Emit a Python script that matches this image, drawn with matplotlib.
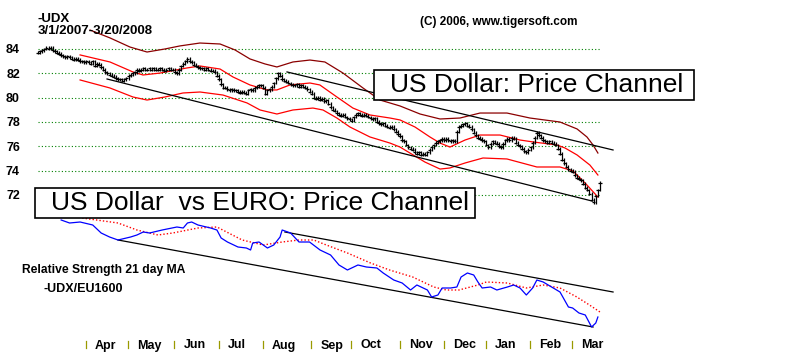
import numpy as np
import matplotlib
matplotlib.use("Agg")
import matplotlib.pyplot as plt
from matplotlib.patches import Rectangle
from matplotlib.transforms import blended_transform_factory

plt.rcParams['font.family'] = ['Liberation Sans', 'DejaVu Sans']

# -UDX daily closes, one list per month (3/1/2007 - 3/20/2008)
mar07 = [83.7, 83.8, 83.9, 84.0, 84.1, 84.0, 84.1, 83.9, 83.8, 83.7, 83.6, 83.5, 83.4, 83.3, 83.4, 83.3,
         83.2, 83.1, 83.2, 83.1, 83.0, 83.0]
apr07 = [82.9, 83.0, 82.9, 82.8, 83.0, 82.6, 82.8, 82.7, 82.5, 82.3, 82.1, 82.0, 81.9, 81.8, 81.7, 81.6,
         81.5, 81.5, 81.4, 81.5]
may07 = [81.6, 81.8, 81.9, 82.0, 82.1, 82.3, 82.2, 82.3, 82.4, 82.3, 82.3, 82.4, 82.3, 82.4, 82.3, 82.3,
         82.4, 82.3, 82.2, 82.3, 82.4, 82.3]
jun07 = [82.3, 82.1, 82.0, 82.3, 82.6, 82.8, 83.0, 83.2, 83.0, 82.9, 82.7, 82.6, 82.5, 82.4, 82.4, 82.3,
         82.4, 82.3, 82.2, 82.2, 82.1]
jul07 = [81.8, 81.5, 81.1, 80.8, 80.8, 80.7, 80.6, 80.7, 80.6, 80.6, 80.5, 80.4, 80.5, 80.4, 80.3, 80.6,
         80.7, 80.6, 80.8, 80.9, 81.0]
aug07 = [81.0, 80.8, 80.3, 80.6, 80.7, 80.9, 81.2, 81.6, 82.0, 81.8, 81.5, 81.4, 81.3, 81.2, 81.1, 81.0,
         81.0, 81.1, 80.9, 81.0, 80.9, 80.8, 80.7]
sep07 = [80.5, 80.3, 80.0, 79.9, 80.0, 79.8, 79.9, 79.7, 79.8, 79.5, 79.2, 79.0, 78.9, 78.7, 78.6, 78.5,
         78.6, 78.4, 78.3]
oct07 = [78.2, 78.1, 78.4, 78.6, 78.7, 78.6, 78.5, 78.6, 78.5, 78.4, 78.3, 78.2, 78.3, 78.0, 77.9, 77.8,
         77.9, 77.7, 77.6, 77.5, 77.6, 77.4, 77.2]
nov07 = [77.0, 76.8, 76.5, 76.4, 76.1, 75.9, 75.8, 75.7, 75.5, 75.4, 75.5, 75.3, 75.4, 75.3, 75.5, 75.7,
         75.9, 76.1, 76.3, 76.4, 76.5]
dec07 = [76.6, 76.5, 76.6, 76.5, 76.4, 76.5, 76.4, 77.2, 77.6, 77.7, 77.8, 77.9, 77.7, 77.6, 77.4, 77.1,
         76.9, 76.7, 76.6, 76.5]
jan08 = [76.4, 76.1, 75.9, 76.2, 76.4, 76.3, 76.2, 76.0, 75.9, 76.2, 76.5, 76.6, 76.5, 76.7, 76.6, 76.3,
         76.1, 76.0, 75.8, 75.6, 75.5]
feb08 = [75.7, 75.9, 76.3, 76.7, 77.1, 76.9, 76.7, 76.5, 76.4, 76.3, 76.4, 76.3, 76.2, 76.1, 75.8, 75.4,
         74.9, 74.6, 74.3, 74.1]
mar08 = [74.0, 73.9, 73.6, 73.4, 73.3, 73.2, 72.9, 72.6, 72.4, 72.1, 71.6, 71.4, 71.9, 72.4, 73.0]

# bands (trading day, value)
maroon_day = [24.7, 34.2, 43.7, 51.8, 60.3, 67.4, 76.9, 86.5, 93.6, 100.7, 107.8, 113.5, 121.1, 129.2,
              136.3, 144.9, 154.4, 162.5, 172.0, 181.5, 191.0, 200.5, 210.0, 222.8, 233.7, 248.0, 256.1,
              260.8, 263.7, 266.0]
maroon_val = [85.56, 84.91, 84.16, 83.75, 84.0, 84.25, 84.49, 84.41, 83.92, 83.18, 82.77, 82.52, 82.93,
              83.09, 82.93, 82.02, 80.79, 79.80, 79.31, 78.65, 78.24, 78.32, 78.73, 78.73, 78.32, 77.99,
              77.42, 76.76, 76.10, 75.44]
upper_day = [20.0, 34.2, 45.1, 49.9, 58.0, 70.8, 77.0, 86.5, 92.6, 100.7, 108.8, 113.5, 119.7, 129.2,
             133.9, 142.0, 149.6, 157.7, 167.2, 172.0, 179.1, 186.2, 191.0, 195.7, 202.9, 210.0, 219.5,
             229.0, 235.2, 246.6, 250.4, 256.1, 262.2, 266.0]
upper_val = [83.51, 82.93, 82.11, 81.86, 82.02, 82.44, 82.60, 82.35, 81.70, 81.04, 80.63, 80.63, 81.04,
             81.20, 81.04, 80.05, 79.14, 78.57, 78.32, 78.16, 77.58, 76.76, 76.26, 75.93, 76.51, 76.92,
             76.92, 76.51, 76.35, 76.10, 75.85, 75.28, 74.45, 73.63]
lower_day = [20.0, 34.2, 45.1, 51.8, 60.3, 68.9, 77.0, 87.9, 99.3, 105.5, 113.5, 121.1, 130.6, 135.4,
             142.0, 148.2, 157.7, 167.2, 172.0, 176.7, 183.8, 191.0, 195.7, 202.9, 211.4, 222.8, 237.0,
             248.0, 254.2, 260.8, 266.0]
lower_val = [81.45, 80.79, 80.05, 79.80, 80.05, 80.38, 80.46, 80.21, 79.56, 78.98, 78.65, 78.98, 79.14,
             78.98, 78.32, 77.58, 76.76, 76.26, 75.93, 75.44, 74.70, 74.12, 74.21, 74.62, 75.03, 74.95,
             74.29, 74.29, 73.96, 72.81, 71.82]

# price channel lines
chan_lo_day = [32.8, 263.2]
chan_lo_val = [81.53, 71.49]
chan_hi_day = [118.3, 273.2]
chan_hi_val = [82.11, 75.69]

# relative strength -UDX/EU1600 and its 21 day MA
rs_day = [11, 15, 20, 26, 30, 34, 38, 44, 47, 50, 53, 59, 66, 69, 71, 73, 76, 82, 85, 87, 90, 95, 99,
          101, 102, 105, 109, 112, 115, 116, 120, 124, 129, 134, 139, 143, 147, 152, 156, 161, 164, 169,
          173, 177, 180, 185, 187, 190, 192, 196, 199, 201, 204, 207, 209, 211, 215, 218, 223, 226, 229,
          232, 235, 237, 240, 244, 248, 252, 254, 257, 260, 263, 265, 266]
rs_val = [12.0, 11.7, 11.8, 11.5, 10.7, 10.3, 10.0, 10.3, 10.5, 10.8, 10.7, 11.0, 11.3, 11.2, 11.7, 11.8,
          11.5, 11.2, 11.0, 10.2, 9.8, 9.3, 9.2, 9.0, 9.7, 9.8, 9.2, 9.5, 10.3, 11.0, 10.7, 9.8, 9.8, 9.0,
          8.5, 7.5, 7.0, 7.5, 7.3, 7.2, 6.7, 6.0, 5.7, 5.0, 5.5, 5.0, 4.3, 4.5, 5.2, 5.2, 5.3, 6.3, 6.7,
          6.5, 5.8, 5.2, 5.3, 5.0, 5.3, 5.5, 5.2, 4.5, 5.2, 6.0, 5.8, 5.3, 4.8, 3.3, 3.2, 2.7, 2.5, 1.3,
          1.7, 2.3]
ma_day = [21, 38, 47, 57, 64, 76, 85, 97, 107, 116, 124, 131, 137, 147, 158, 167, 178, 188, 194, 200,
          209, 213, 223, 232, 240, 248, 256, 262, 267]
ma_val = [12.2, 11.7, 11.0, 10.5, 10.7, 11.2, 11.3, 10.0, 9.5, 9.8, 10.0, 10.0, 9.5, 8.7, 7.7, 7.0, 6.3,
          5.3, 5.0, 5.0, 5.5, 5.8, 5.7, 5.2, 5.5, 5.2, 4.3, 3.5, 2.8]
rs_lo_day = [38.0, 263.7]
rs_lo_val = [10.0, 1.3]
rs_hi_day = [117.3, 273.2]
rs_hi_val = [10.8, 4.8]

month_names = ['Apr', 'May', 'Jun', 'Jul', 'Aug', 'Sep', 'Oct', 'Nov', 'Dec', 'Jan', 'Feb', 'Mar']
month_start = [22, 42, 64, 85, 106, 129, 148, 171, 192, 212, 233, 253]
price_ticks = [72, 74, 76, 78, 80, 82, 84]

W, H = 800, 352
fig = plt.figure(figsize=(W / 100, H / 100), dpi=100)
fig.patch.set_facecolor('white')


def px_rect(x0, y0, x1, y1):
    return [x0 / W, (H - y1) / H, (x1 - x0) / W, (y1 - y0) / H]


closes = np.array(mar07 + apr07 + may07 + jun07 + jul07 + aug07 + sep07 + oct07 + nov07 + dec07
                  + jan08 + feb08 + mar08)
days = np.arange(len(closes))

# ---- price panel
ax = fig.add_axes(px_rect(38, 0, 600, 215))
ax.set_xlim(0, 267)
ax.set_ylim(70.34, 88.03)
for s in ax.spines.values():
    s.set_visible(False)
ax.set_xticks([])
ax.set_yticks(price_ticks)
ax.set_yticklabels([str(t) for t in price_ticks], fontsize=9, fontweight='bold')
ax.tick_params(axis='y', length=0, pad=13)
ax.yaxis.grid(True, color='#008000', linestyle=(0, (1, 2)), linewidth=0.8)
ax.set_axisbelow(True)

ax.plot(maroon_day, maroon_val, color='#8b0000', lw=0.9, clip_on=False)
ax.plot(upper_day, upper_val, color='#ff0000', lw=0.9, clip_on=False)
ax.plot(lower_day, lower_val, color='#ff0000', lw=0.9, clip_on=False)
ax.plot(chan_lo_day, chan_lo_val, color='black', lw=0.9, clip_on=False)
ax.plot(chan_hi_day, chan_hi_val, color='black', lw=0.9, clip_on=False)

prev = np.r_[closes[0], closes[:-1]]
ax.vlines(days, np.minimum(prev, closes) - 0.12, np.maximum(prev, closes) + 0.12,
          color='black', lw=0.9, clip_on=False)
ax.hlines(closes, days - 0.8, days + 0.8, color='black', lw=0.9, clip_on=False)

# ---- relative strength panel
ax2 = fig.add_axes(px_rect(38, 215, 600, 335))
ax2.set_xlim(0, 267)
ax2.set_ylim(0.5, 12.5)
ax2.axis('off')
ax2.plot(rs_lo_day, rs_lo_val, color='black', lw=0.9, clip_on=False)
ax2.plot(rs_hi_day, rs_hi_val, color='black', lw=0.9, clip_on=False)
ax2.plot(ma_day, ma_val, color='#ff0000', lw=1.0, linestyle=(0, (1, 1.5)), clip_on=False)
ax2.plot(rs_day, rs_val, color='#0000ff', lw=0.9, clip_on=False)

# month ticks and labels along the bottom
tr = blended_transform_factory(ax2.transData, fig.transFigure)
for name, d in zip(month_names, month_start):
    ax2.plot([d + 0.8, d + 0.8], [(H - 348) / H, (H - 340.5) / H], color='#9a9a00', lw=0.9,
             transform=tr, clip_on=False)
    ax2.annotate(name, (d + 0.8, (H - 345.5) / H), xycoords=tr, xytext=(6.5, 0),
                 textcoords='offset points', ha='left', va='center', fontsize=9,
                 fontweight='bold', annotation_clip=False)

# ---- header and labels
fig.text(38 / W, (H - 19) / H, '-UDX', fontsize=9.5, fontweight='bold', va='center')
fig.text(38 / W, (H - 30.5) / H, '3/1/2007-3/20/2008', fontsize=9.5, fontweight='bold', va='center')
fig.text(420 / W, (H - 22) / H, '(C) 2006, www.tigersoft.com', fontsize=8.5, fontweight='bold',
         va='center')
fig.text(22 / W, (H - 269.5) / H, 'Relative Strength 21 day MA', fontsize=8.7, fontweight='bold',
         va='center')
fig.text(43 / W, (H - 289.5) / H, '-UDX/EU1600', fontsize=9, fontweight='bold', va='center')

# label boxes, drawn over the lines
for (x0, y0, x1, y1), label in [((374, 70, 694, 100), 'US Dollar: Price Channel'),
                                ((35, 188, 475, 218), 'US Dollar  vs EURO: Price Channel')]:
    fig.add_artist(Rectangle((x0 / W, (H - y1) / H), (x1 - x0) / W, (y1 - y0) / H,
                             transform=fig.transFigure, facecolor='white', edgecolor='black',
                             lw=1.2, zorder=5))
    fig.text((x0 + 16) / W, (H - (y0 + y1) / 2) / H, label, fontsize=19, va='center',
             ha='left', zorder=6)

fig.savefig('out.png', dpi=100, facecolor='white')
